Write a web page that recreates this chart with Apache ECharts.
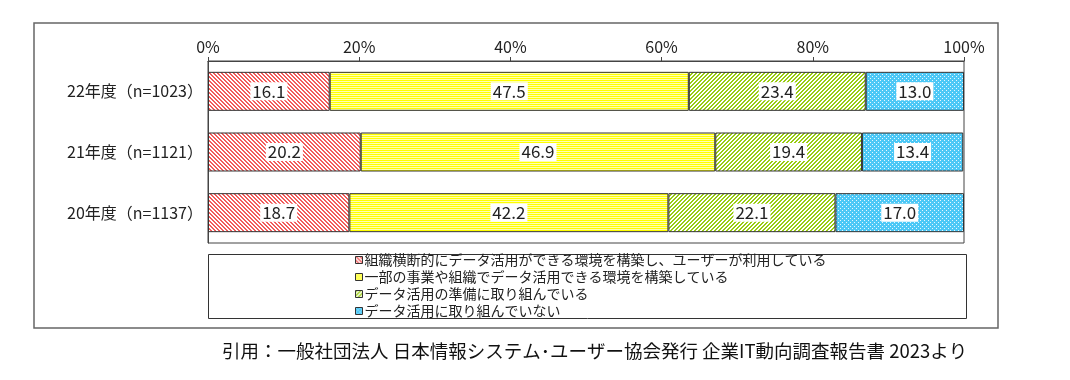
<!DOCTYPE html>
<html><head><meta charset="utf-8">
<script src="https://cdn.jsdelivr.net/npm/echarts@6/dist/echarts.min.js"></script>
<style>html,body{margin:0;padding:0;background:#fff}#c{width:1070px;height:380px}</style>
</head><body><div id="c"></div>
<script>
const categories = ['22年度（n=1023）', '21年度（n=1121）', '20年度（n=1137）'];
const seriesNames = [
  '組織横断的にデータ活用ができる環境を構築し、ユーザーが利用している',
  '一部の事業や組織でデータ活用できる環境を構築している',
  'データ活用の準備に取り組んでいる',
  'データ活用に取り組んでいない'
];
const valuesOrgWide = [16.1, 20.2, 18.7];
const valuesPartial = [47.5, 46.9, 42.2];
const valuesPreparing = [23.4, 19.4, 22.1];
const valuesNone = [13.0, 13.4, 17.0];
const xTicks = [0, 20, 40, 60, 80, 100];
const footerText = '引用：一般社団法人 日本情報システム･ユーザー協会発行 企業IT動向調査報告書 2023より';

function makePattern(size, fn) {
  const cv = document.createElement('canvas');
  cv.width = size; cv.height = size;
  const ctx = cv.getContext('2d');
  for (let y = 0; y < size; y++) for (let x = 0; x < size; x++) {
    ctx.fillStyle = fn(x, y);
    ctx.fillRect(x, y, 1, 1);
  }
  return { image: cv, repeat: 'repeat' };
}
const redPat = makePattern(4, (x, y) => (((x - y) % 4 + 4) % 4) < 2 ? '#f25c5c' : '#ffffff');
const yelPat = makePattern(4, (x, y) => (y % 2 === 0) ? '#ffff00' : '#ffffb0');
const grnPat = makePattern(4, (x, y) => ((x + y) % 4) < 2 ? '#99cc11' : '#ffffff');
const bluPat = makePattern(4, (x, y) => ((x === 0 && y === 0) || (x === 2 && y === 2)) ? '#e6f7ff' : '#4cc8f6');

const pats = [redPat, yelPat, grnPat, bluPat];
const datas = [valuesOrgWide, valuesPartial, valuesPreparing, valuesNone];
const FONT = '"Noto Sans CJK JP", "Noto Sans", sans-serif';

const chart = echarts.init(document.getElementById('c'), null, { renderer: 'canvas' });
chart.setOption({
  animation: false,
  textStyle: { fontFamily: FONT },
  grid: { left: 208, right: 106, top: 61, bottom: 137, show: true, borderColor: '#444', borderWidth: 1, backgroundColor: 'transparent' },
  xAxis: {
    type: 'value', position: 'top', min: 0, max: 100, interval: 20,
    axisLine: { show: true, lineStyle: { color: '#444', width: 1 } },
    axisTick: { show: true, length: 4, lineStyle: { color: '#444' } },
    splitLine: { show: false },
    axisLabel: { formatter: v => xTicks.includes(v) ? v + '%' : '', fontSize: 16, color: '#222', margin: 6, fontFamily: FONT }
  },
  yAxis: {
    type: 'category', data: categories, inverse: true,
    axisLine: { show: true, lineStyle: { color: '#444' } },
    axisTick: { show: false },
    axisLabel: { fontSize: 16, color: '#222', margin: 5, fontFamily: FONT }
  },
  legend: {
    orient: 'vertical', left: 355, top: 253, padding: 0, itemWidth: 7, itemHeight: 7, itemGap: 3,
    icon: 'rect',
    itemStyle: { borderColor: '#333', borderWidth: 1 },
    textStyle: { fontSize: 14, color: '#222', lineHeight: 14, padding: [0, 0, 0, -3], fontFamily: FONT },
    data: seriesNames
  },
  title: {
    text: footerText, left: 222, top: 342, padding: 0,
    textStyle: { fontSize: 18.5, fontWeight: 'normal', color: '#111', fontFamily: FONT }
  },
  graphic: [
    { type: 'rect', z: -1, shape: { x: 34, y: 23, width: 964, height: 305 }, style: { fill: 'none', stroke: '#666', lineWidth: 1.5 } },
    { type: 'rect', z: -1, shape: { x: 208.5, y: 254.5, width: 758, height: 64 }, style: { fill: 'none', stroke: '#333', lineWidth: 1 } }
  ],
  series: seriesNames.map((n, i) => ({
    name: n, type: 'bar', stack: 'all', data: datas[i], barWidth: 39,
    itemStyle: { color: pats[i], borderColor: '#333', borderWidth: 1 },
    label: {
      show: true, position: 'inside', formatter: p => p.value.toFixed(1),
      backgroundColor: '#fff', padding: [1, 2, 0, 2], fontSize: 17, color: '#222', fontFamily: FONT
    }
  }))
});
</script></body></html>
